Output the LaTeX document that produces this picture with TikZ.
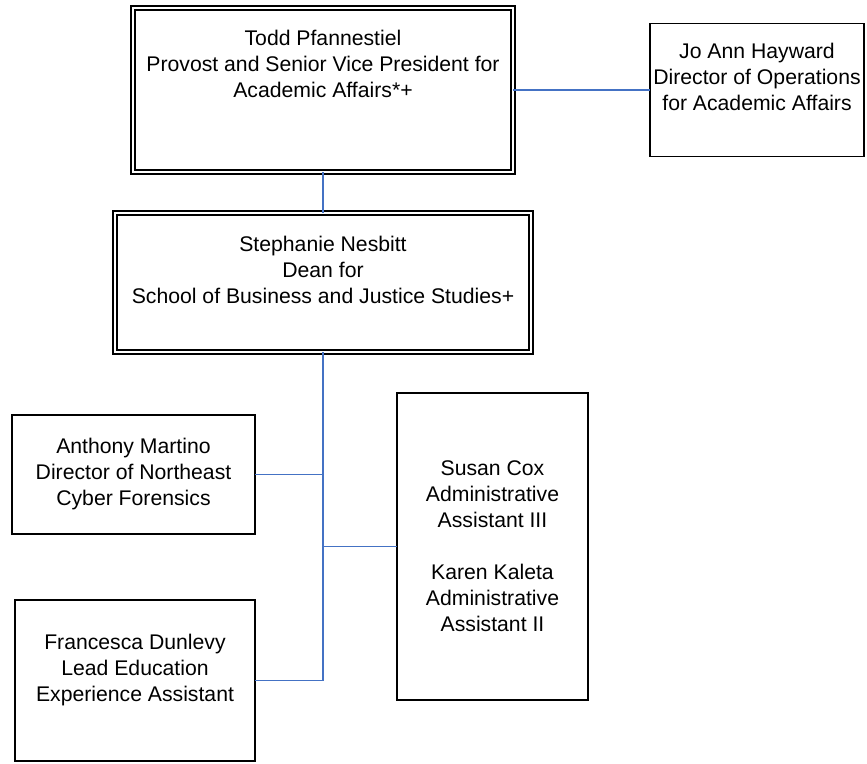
\documentclass[tikz,border=0pt]{standalone}
\usepackage{fontspec}
\setmainfont{Liberation Sans}
\usepackage{tikz}
\usetikzlibrary{positioning}

\definecolor{linkblue}{RGB}{68,114,196}

\begin{document}
\begin{tikzpicture}[
    x=1pt, y=1pt,
    font=\fontsize{21.2}{26}\selectfont,
    box/.style={draw, line width=1.8pt, outer sep=0pt, inner sep=0pt, align=center},
    dblbox/.style={box, line width=1.75pt, double, double distance=2.5pt},
    conn/.style={draw=linkblue, line width=1.5pt}
]
\useasboundingbox (0,0) rectangle (867,-763);

\node[dblbox, minimum width=380pt, minimum height=164pt] (todd) at (323,-90)
    {Todd Pfannestiel\\Provost and Senior Vice President for\\Academic Affairs*+\\~\\~};
\node[box, minimum width=214pt, minimum height=133pt, right=137pt of todd] (jo)
    {Jo Ann Hayward\\Director of Operations\\for Academic Affairs\\~};
\node[dblbox, minimum width=416pt, minimum height=139pt, below=41pt of todd] (dean)
    {Stephanie Nesbitt\\Dean for\\School of Business and Justice Studies+\\~};

\node[box, minimum width=243pt, minimum height=119pt] (martino) at (133.5,-474.5)
    {Anthony Martino\\Director of Northeast\\Cyber Forensics};
\node[box, minimum width=191pt, minimum height=307pt] (cox) at (492.5,-546.5)
    {Susan Cox\\Administrative\\Assistant III\\~\\Karen Kaleta\\Administrative\\Assistant II};
\node[box, minimum width=240pt, minimum height=161pt] (dunlevy) at (135,-680.5)
    {Francesca Dunlevy\\Lead Education\\Experience Assistant\\~};

\draw[conn] (todd.east) -- (todd.east -| jo.west);
\draw[conn] (todd.south) -- (dean.north);
\draw[conn] (dean.south) |- (dunlevy.east);
\draw[conn] (martino.east) -- (martino.east -| dean.south);
\draw[conn] (cox.west) -- (cox.west -| dean.south);
\end{tikzpicture}
\end{document}
